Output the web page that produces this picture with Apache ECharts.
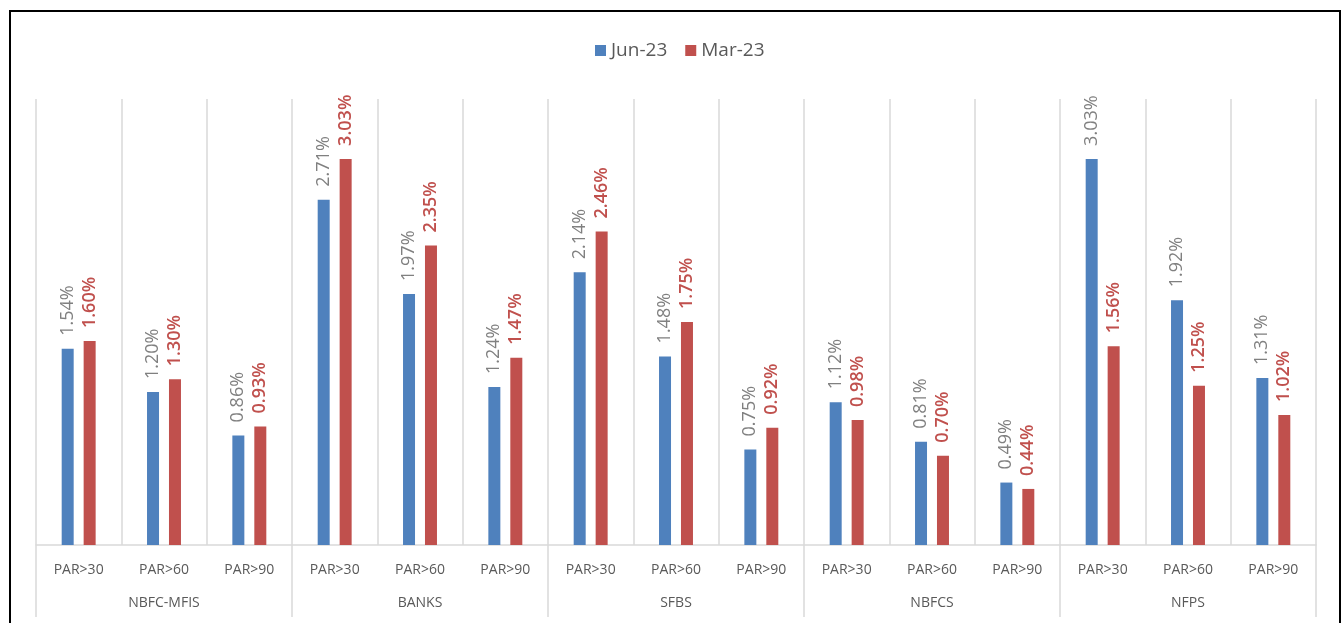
<!DOCTYPE html>
<html>
<head>
<meta charset="utf-8">
<script src="https://cdn.jsdelivr.net/npm/echarts@6/dist/echarts.min.js"></script>
<style>
  html, body { margin: 0; padding: 0; background: #fff; }
  #chart { width: 1342px; height: 623px; }
</style>
</head>
<body>
<div id="chart"></div>
<script>
// Portfolio-at-risk buckets per lender type
const groups = ['NBFC-MFIS', 'BANKS', 'SFBS', 'NBFCS', 'NFPS'];
const buckets = ['PAR>30', 'PAR>60', 'PAR>90'];
const jun23 = [1.54, 1.20, 0.86, 2.71, 1.97, 1.24, 2.14, 1.48, 0.75, 1.12, 0.81, 0.49, 3.03, 1.92, 1.31];
const mar23 = [1.60, 1.30, 0.93, 3.03, 2.35, 1.47, 2.46, 1.75, 0.92, 0.98, 0.70, 0.44, 1.56, 1.25, 1.02];

const categories = [];
groups.forEach(() => buckets.forEach(b => categories.push(b)));

const FONT = '"Open Sans", Lato, sans-serif';
const GRID = '#d9d9d9';

const chart = echarts.init(document.getElementById('chart'));

function labelFor(color, weight) {
  return {
    show: true,
    position: 'top',
    rotate: 90,
    align: 'left',
    verticalAlign: 'middle',
    distance: 13,
    color: color,
    fontFamily: FONT,
    fontSize: 18,
    fontWeight: weight,
    formatter: p => p.value.toFixed(2) + '%'
  };
}

chart.setOption({
  animation: false,
  backgroundColor: '#fff',
  graphic: [{
    type: 'rect',
    shape: { x: 10, y: 11, width: 1330, height: 700 },
    style: { fill: 'none', stroke: '#000', lineWidth: 2 },
    silent: true
  }],
  legend: {
    top: 36,
    left: 590,
    icon: 'rect',
    itemWidth: 11,
    itemHeight: 11,
    itemGap: 18,
    textStyle: { color: '#595959', fontSize: 19, fontFamily: FONT },
    data: ['Jun-23', 'Mar-23']
  },
  grid: { left: 36, right: 26, top: 99, bottom: 78, containLabel: false },
  xAxis: [{
    type: 'category',
    data: categories,
    axisLine: { show: true, lineStyle: { color: GRID, width: 1.5 } },
    axisTick: { show: false },
    splitLine: { show: true, interval: 0, lineStyle: { color: GRID, width: 1.5 } },
    axisLabel: { interval: 0, margin: 18, color: '#595959', fontSize: 14, fontFamily: FONT }
  }, {
    type: 'category',
    data: groups,
    position: 'bottom',
    axisLine: { show: false },
    axisTick: { show: true, interval: 0, length: 72, lineStyle: { color: GRID, width: 1.5 } },
    splitLine: { show: false },
    axisLabel: { interval: 0, margin: 51, color: '#595959', fontSize: 14, fontFamily: FONT }
  }],
  yAxis: {
    type: 'value',
    min: 0,
    max: 3.5,
    show: false,
    splitLine: { show: false }
  },
  series: [{
    name: 'Jun-23',
    type: 'bar',
    xAxisIndex: 0,
    data: jun23,
    barWidth: 12,
    barGap: '83%',
    itemStyle: { color: '#4f81bd' },
    label: labelFor('#808080', 'normal')
  }, {
    name: 'Mar-23',
    type: 'bar',
    xAxisIndex: 0,
    data: mar23,
    barWidth: 12,
    barGap: '83%',
    itemStyle: { color: '#c0504d' },
    label: labelFor('#c0504d', 600)
  }]
});
</script>
</body>
</html>
